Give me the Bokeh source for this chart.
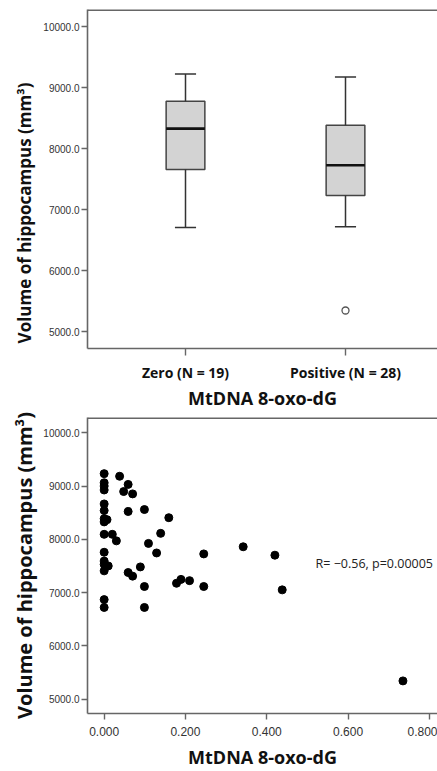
from bokeh.plotting import figure
from bokeh.layouts import column
from bokeh.models import FixedTicker, NumeralTickFormatter, Range1d
from bokeh.core.properties import value
from bokeh.embed import file_html
from bokeh.resources import INLINE

# ---------------- data ----------------
groups = ["Zero (N = 19)", "Positive (N = 28)"]
whisker_low = [6710, 6721]
q1 = [7663, 7234]
median = [8331, 7732]
q3 = [8781, 8385]
whisker_high = [9225, 9177]
outlier_group = [1]
outlier_value = [5350]

oxo = [0.000, 0.038, 0.000, 0.000, 0.000, 0.059, 0.048, 0.070, 0.000, 0.000,
       0.059, 0.099, 0.159, 0.000, 0.000, 0.007, 0.000, 0.020, 0.030, 0.139,
       0.109, 0.000, 0.129, 0.245, 0.000, 0.000, 0.010, 0.000, 0.059, 0.070,
       0.089, 0.099, 0.178, 0.189, 0.210, 0.245, 0.000, 0.000, 0.099, 0.342,
       0.420, 0.438, 0.735]
volume = [9233, 9184, 9062, 9000, 8926, 9031, 8897, 8853, 8664, 8540,
          8522, 8559, 8406, 8388, 8327, 8369, 8094, 8094, 7971, 8112,
          7923, 7757, 7744, 7726, 7592, 7529, 7500, 7408, 7377, 7309,
          7482, 7114, 7175, 7248, 7224, 7114, 6868, 6721, 6721, 7860,
          7702, 7051, 5342]

y_ticks = [5000, 6000, 7000, 8000, 9000, 10000]
x_ticks = [0.0, 0.2, 0.4, 0.6, 0.8]
x_title = "MtDNA 8-oxo-dG"
y_title = "Volume of hippocampus (mm³)"
stat_text = ["R= \u22120.56, p=0.00005"]
stat_x = [0.52]
stat_y = [7548]

AX = "#666666"
TICK_FONT = "Liberation Sans"
TITLE_FONT = "Open Sans"


def style_axes(p, yfont, ylabel, standoff):
    xa = p.below[0]
    ya = p.left[0]
    for ax in (xa, ya):
        ax.axis_line_color = AX
        ax.axis_line_width = 1.6
        ax.major_tick_line_color = AX
        ax.major_tick_line_width = 1.4
        ax.major_tick_in = 0
        ax.minor_tick_line_color = None
        ax.axis_label_text_font = TITLE_FONT
        ax.axis_label_text_font_style = "bold"
        ax.axis_label_text_color = "#111111"
    ya.major_tick_out = 6
    ya.ticker = FixedTicker(ticks=y_ticks)
    ya.formatter = NumeralTickFormatter(format="0.0")
    ya.major_label_text_font = TICK_FONT
    ya.major_label_text_font_size = "10px"
    ya.major_label_text_color = "#333333"
    ya.major_label_standoff = 2
    ya.axis_label = ylabel
    ya.axis_label_text_font_size = yfont
    ya.axis_label_standoff = standoff
    # top frame edge drawn as a line (the right side is off the page)
    xr = p.x_range
    yr = p.y_range
    p.segment(x0=[xr.start], x1=[xr.end], y0=[yr.end], y1=[yr.end],
              line_color=AX, line_width=3.2)
    p.outline_line_color = None
    p.xgrid.grid_line_color = None
    p.ygrid.grid_line_color = None
    p.background_fill_color = "white"
    p.border_fill_color = "white"
    return xa


# ---------------- box plot ----------------
pos = [i + 1 for i in range(len(groups))]
p1 = figure(width=437, height=412, output_backend="svg", toolbar_location=None,
            x_range=Range1d(0.3875, 2.575), y_range=Range1d(4727, 10284),
            min_border_left=87, min_border_right=0, min_border_top=9,
            min_border_bottom=57)
# trailing em spaces move the visible title down, as in the original
xa = style_axes(p1, "17px", y_title + "\u2003\u2003\u2003\u2003", 4)
p1.vbar(x=pos, width=0.242, bottom=q1, top=q3, fill_color="#d3d3d3",
        line_color="#444444", line_width=1.5)
p1.segment(x0=pos, x1=pos, y0=q3, y1=whisker_high, line_color="#333333", line_width=1.5)
p1.segment(x0=pos, x1=pos, y0=whisker_low, y1=q1, line_color="#333333", line_width=1.5)
p1.segment(x0=[x - 0.066 for x in pos], x1=[x + 0.066 for x in pos],
           y0=whisker_high, y1=whisker_high, line_color="#333333", line_width=1.5)
p1.segment(x0=[x - 0.066 for x in pos], x1=[x + 0.066 for x in pos],
           y0=whisker_low, y1=whisker_low, line_color="#333333", line_width=1.5)
p1.segment(x0=[x - 0.121 for x in pos], x1=[x + 0.121 for x in pos],
           y0=median, y1=median, line_color="#111111", line_width=2.6)
p1.scatter(x=[pos[g] for g in outlier_group], y=outlier_value, size=7,
           fill_color="white", line_color="#555555", line_width=1.3)
xa.ticker = FixedTicker(ticks=pos)
xa.major_label_overrides = {pos[i]: groups[i] for i in range(len(groups))}
xa.major_label_text_font = TITLE_FONT
xa.major_label_text_font_style = "bold"
xa.major_label_text_font_size = "14px"
xa.major_label_text_color = "#111111"
xa.major_tick_out = 7
xa.major_label_standoff = 7
xa.axis_label = x_title
xa.axis_label_text_font_size = "18px"
xa.axis_label_standoff = 1

# ---------------- scatter ----------------
p2 = figure(width=437, height=359, output_backend="svg", toolbar_location=None,
            x_range=Range1d(-0.041, 0.820), y_range=Range1d(4730, 10287),
            min_border_left=87, min_border_right=0, min_border_top=5,
            min_border_bottom=52)
xb = style_axes(p2, "20px", y_title, 2)
p2.scatter(x=oxo, y=volume, size=8, fill_color="black", line_color="black")
xb.ticker = FixedTicker(ticks=x_ticks)
xb.formatter = NumeralTickFormatter(format="0.000")
xb.major_label_text_font = TICK_FONT
xb.major_label_text_font_size = "12px"
xb.major_label_text_color = "#333333"
xb.major_tick_out = 6
xb.major_label_standoff = 7
xb.axis_label = x_title
xb.axis_label_text_font_size = "18px"
xb.axis_label_standoff = 6
p2.text(x=stat_x, y=stat_y, text=stat_text, text_font=value(TITLE_FONT),
        text_font_size="12.5px", text_color="#222222",
        text_baseline="middle", text_align="left")

layout = column(p1, p2)
open("out.html", "w").write(file_html(layout, INLINE))
